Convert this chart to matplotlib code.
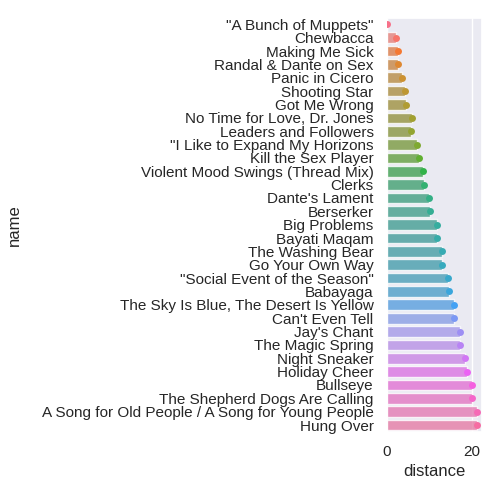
import matplotlib
matplotlib.use("Agg")
import matplotlib.pyplot as plt
import pandas as pd
import seaborn as sns

names = [
    '"A Bunch of Muppets"',
    "Chewbacca",
    "Making Me Sick",
    "Randal & Dante on Sex",
    "Panic in Cicero",
    "Shooting Star",
    "Got Me Wrong",
    "No Time for Love, Dr. Jones",
    "Leaders and Followers",
    '"I Like to Expand My Horizons',
    "Kill the Sex Player",
    "Violent Mood Swings (Thread Mix)",
    "Clerks",
    "Dante's Lament",
    "Berserker",
    "Big Problems",
    "Bayati Maqam",
    "The Washing Bear",
    "Go Your Own Way",
    '"Social Event of the Season"',
    "Babayaga",
    "The Sky Is Blue, The Desert Is Yellow",
    "Can't Even Tell",
    "Jay's Chant",
    "The Magic Spring",
    "Night Sneaker",
    "Holiday Cheer",
    "Bullseye",
    "The Shepherd Dogs Are Calling",
    "A Song for Old People / A Song for Young People",
    "Hung Over",
]
distances = [
    0.15, 2.2, 2.7, 2.7, 3.65, 4.35, 4.6, 5.9, 5.8, 7.2, 7.5,
    8.55, 8.8, 9.95, 10.2, 11.7, 11.7, 13.0, 13.05, 14.25, 14.5,
    15.7, 15.7, 17.1, 17.1, 18.45, 18.7, 20.1, 20.1, 21.2, 21.2,
]

df = pd.DataFrame({"name": names, "distance": distances})

sns.set_theme(style="darkgrid")
plt.rcParams["font.family"] = ["Liberation Sans", "DejaVu Sans"]

palette = sns.husl_palette(len(names))

fig, ax = plt.subplots(figsize=(5, 5), dpi=100)
sns.barplot(data=df, x="distance", y="name", hue="name", legend=False,
            palette=palette, saturation=0.75, alpha=0.8, ax=ax)
sns.stripplot(data=df, x="distance", y="name", hue="name", legend=False,
              palette=palette, jitter=False, ax=ax)
ax.set_ylabel("name", labelpad=14)
fig.subplots_adjust(left=0.7734, right=0.9634, top=0.9646, bottom=0.1366)
fig.savefig("out.png", dpi=100)
